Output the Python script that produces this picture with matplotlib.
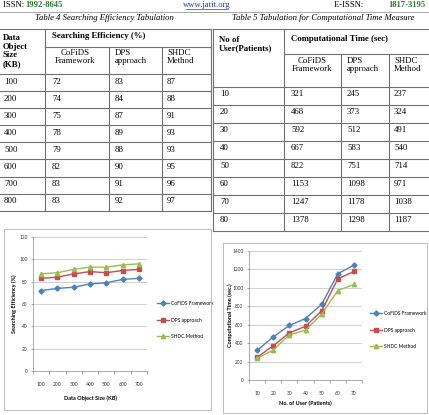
import matplotlib
matplotlib.use("Agg")
import matplotlib.pyplot as plt
from matplotlib.lines import Line2D

W, H = 429, 415
fig = plt.figure(figsize=(W / 100, H / 100), dpi=100)
fig.patch.set_facecolor("white")

# ---------------- data ----------------
sizes_kb = [100, 200, 300, 400, 500, 600, 700, 800]
cofids_eff = [72, 74, 75, 78, 79, 82, 83, 83]
dps_eff = [83, 84, 87, 89, 88, 90, 91, 92]
shdc_eff = [87, 88, 91, 93, 93, 95, 96, 97]

users = [10, 20, 30, 40, 50, 60, 70, 80]
cofids_time = [321, 468, 592, 667, 822, 1153, 1247, 1378]
dps_time = [245, 373, 512, 583, 751, 1098, 1178, 1298]
shdc_time = [237, 324, 491, 540, 714, 971, 1038, 1187]

series_names = ["CoFiDS Framework", "DPS approach", "SHDC Method"]
eff_ticks = [0, 20, 40, 60, 80, 100, 120]
time_ticks = [0, 200, 400, 600, 800, 1000, 1200, 1400]

SERIF = "Liberation Serif"
SANS = ["Lato", "DejaVu Sans"]
LINE_C = "#707070"
FS = 6.3


def fx(x):
    return x / W


def fy(y):
    return 1 - y / H


def hline(x0, x1, y, c=LINE_C, lw=0.8):
    fig.add_artist(Line2D([fx(x0), fx(x1)], [fy(y), fy(y)], transform=fig.transFigure,
                          color=c, lw=lw))


def vline(x, y0, y1, c=LINE_C, lw=0.8):
    fig.add_artist(Line2D([fx(x), fx(x)], [fy(y0), fy(y1)], transform=fig.transFigure,
                          color=c, lw=lw))


def txt(x, y, s, **kw):
    kw.setdefault("family", SERIF)
    kw.setdefault("fontsize", FS)
    kw.setdefault("va", "center")
    kw.setdefault("ha", "left")
    fig.text(fx(x), fy(y), s, **kw)


# ---------------- page header ----------------
GREEN = "#2e7d32"
txt(3, 5, "ISSN: ", fontsize=6.2)
txt(25, 5, "1992-8645", fontsize=6.2, color=GREEN, weight="bold")
fig.text(fx(207), fy(5), "www.jatit.org", family=SERIF, fontsize=6.2, color="#1f3fbf",
         ha="center", va="center")
hline(186, 228, 9.5, c="#1f3fbf", lw=0.5)
txt(365, 5, "E-ISSN: ", fontsize=6.2, ha="right")
txt(426, 5, "1817-3195", fontsize=6.2, color=GREEN, weight="bold", ha="right")
hline(0, 429, 12, c="#999999", lw=0.6)

txt(104, 18, "Table 4 Searching Efficiency Tabulation", style="italic", ha="center", fontsize=6.2)
txt(323, 18, "Table 5 Tabulation for Computational Time Measure", style="italic", ha="center",
    fontsize=6.2)

# ---------------- Table 4 ----------------
t4_top, t4_sub, t4_hb, t4_rh = 29, 47, 74, 17.1
t4_bottom = t4_hb + t4_rh * len(sizes_kb)
hline(0, 211, t4_top)
hline(45, 211, t4_sub)
for k in range(len(sizes_kb) + 1):
    hline(0, 211, t4_hb + k * t4_rh)
vline(45, t4_top, t4_bottom)
vline(109, t4_sub, t4_bottom)
vline(162, t4_sub, t4_bottom)
vline(211, t4_top, t4_bottom)

txt(3, 51, "Data\nObject\nSize\n(KB)", weight="bold", linespacing=1.1)
txt(52, 36, "Searching Efficiency (%)", weight="bold")
txt(75, 57, "CoFiDS\nFramework", ha="center", multialignment="center", linespacing=1.1)
txt(115, 57, "DPS\napproach", linespacing=1.1)
txt(167, 57, "SHDC\nMethod", linespacing=1.1)
for i, s in enumerate(sizes_kb):
    yy = t4_hb + i * t4_rh + 7.5
    txt(4, yy, str(s))
    txt(52, yy, str(cofids_eff[i]))
    txt(115, yy, str(dps_eff[i]))
    txt(167, yy, str(shdc_eff[i]))

# ---------------- Table 5 ----------------
t5_top, t5_sub, t5_hb, t5_rh = 29, 54, 87, 18
t5_bottom = t5_hb + t5_rh * len(users)
hline(213, 429, t5_top)
hline(284, 429, t5_sub)
for k in range(len(users) + 1):
    hline(213, 429, t5_hb + k * t5_rh)
vline(213, t5_top, t5_bottom)
vline(284, t5_top, t5_bottom)
vline(341, t5_sub, t5_bottom)
vline(389, t5_sub, t5_bottom)

txt(219, 44, "No of\nUser(Patients)", weight="bold", linespacing=1.1)
txt(291, 39, "Computational Time (sec)", weight="bold")
txt(312, 65, "CoFiDS\nFramework", ha="center", multialignment="center", linespacing=1.1)
txt(347, 65, "DPS\napproach", linespacing=1.1)
txt(394, 65, "SHDC\nMethod", linespacing=1.1)
for i, u in enumerate(users):
    yy = t5_hb + i * t5_rh + 7
    txt(220, yy, str(u))
    txt(291, yy, str(cofids_time[i]))
    txt(347, yy, str(dps_time[i]))
    txt(394, yy, str(shdc_time[i]))

# ---------------- chart boxes ----------------
BOX_C = "#bdbdbd"
for (x0, y0, x1, y1) in [(4, 229, 211, 410), (223, 243, 427, 413)]:
    hline(x0, x1, y0, c=BOX_C, lw=0.7)
    hline(x0, x1, y1, c=BOX_C, lw=0.7)
    vline(x0, y0, y1, c=BOX_C, lw=0.7)
    vline(x1, y0, y1, c=BOX_C, lw=0.7)

COLORS = ["#4F81BD", "#C0504D", "#9BBB59"]
MARKERS = ["D", "s", "^"]
MSIZES = [2.6, 3.0, 3.2]


def make_chart(rect, cats, series, yticks, xlabel, ylabel, xlab_y, ylab_x, leg_xy):
    x0, y0, x1, y1 = rect
    ax = fig.add_axes([fx(x0), fy(y1), (x1 - x0) / W, (y1 - y0) / H])
    idx = list(range(len(cats)))
    for vals, name, c, m, ms in zip(series, series_names, COLORS, MARKERS, MSIZES):
        ax.plot(idx, vals, color=c, lw=1.0, marker=m, ms=ms, label=name)
    ax.set_xlim(-0.5, len(cats) - 0.5)
    ax.set_ylim(yticks[0], yticks[-1])
    ax.set_yticks(yticks)
    ax.set_yticklabels([str(v) for v in yticks], family=SANS, fontsize=3.4, color="#333333")
    ax.set_xticks(idx)
    ax.set_xticklabels([str(c) for c in cats], family=SANS, fontsize=3.6, color="#333333")
    ax.set_xticks([i + 0.5 for i in range(-1, len(cats))], minor=True)
    ax.tick_params(axis="x", which="major", length=0, pad=8)
    ax.tick_params(axis="x", which="minor", length=2, width=0.5, color="#888888")
    ax.tick_params(axis="y", length=1.5, width=0.5, color="#888888", pad=2.5)
    ax.grid(axis="y", color="#bfbfbf", lw=0.5)
    ax.set_axisbelow(True)
    for s in ["top", "right"]:
        ax.spines[s].set_visible(False)
    for s in ["left", "bottom"]:
        ax.spines[s].set_color("#888888")
        ax.spines[s].set_linewidth(0.5)
    ax.set_facecolor("none")
    fig.text(fx((x0 + x1) / 2), fy(xlab_y), xlabel, family=SANS, fontsize=4.0, weight="bold",
             ha="center", va="center")
    fig.text(fx(ylab_x), fy((y0 + y1) / 2), ylabel, family=SANS, fontsize=4.0, weight="bold",
             ha="center", va="center", rotation=90)
    ax.legend(loc="center left", bbox_to_anchor=(fx(leg_xy[0]), fy(leg_xy[1])),
              bbox_transform=fig.transFigure, frameon=False, prop={"family": SANS, "size": 3.5},
              handlelength=2.4, labelspacing=2.4, handletextpad=0.4, borderpad=0)
    return ax


make_chart((33, 237, 147, 371), sizes_kb[:7],
           [cofids_eff[:7], dps_eff[:7], shdc_eff[:7]], eff_ticks,
           "Data Object Size (KB)", "Searching Efficiency (%)", 398, 14, (155, 320))

make_chart((249, 251, 362, 380), users[:7],
           [cofids_time[:7], dps_time[:7], shdc_time[:7]], time_ticks,
           "No. of User (Patients)", "Computational Time (sec.)", 403, 230, (368, 330))

fig.savefig("out.png", dpi=100)
